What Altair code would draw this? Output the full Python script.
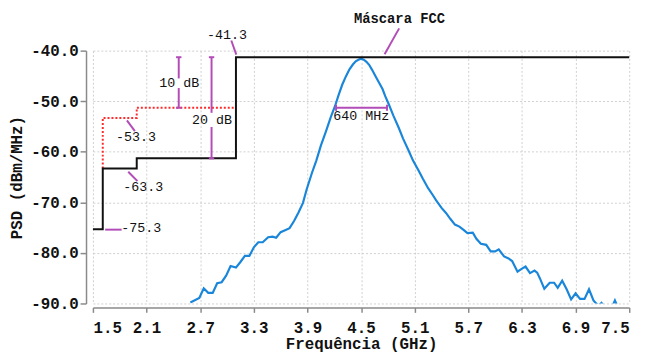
import altair as alt
import pandas as pd

# ---- PSD curve (GHz, dBm/MHz) ----
psd_freq = [2.59, 2.69, 2.74, 2.79, 2.84, 2.89, 2.94, 2.99, 3.04, 3.10, 3.15, 3.20,
            3.25, 3.30, 3.35, 3.40, 3.46, 3.51, 3.55, 3.60, 3.65, 3.70, 3.75, 3.80,
            3.85, 3.89, 3.95, 4.00, 4.05, 4.11, 4.16, 4.21, 4.25, 4.29, 4.33, 4.37,
            4.41, 4.44, 4.47, 4.50, 4.53, 4.56, 4.59, 4.62, 4.66, 4.70, 4.74, 4.77,
            4.81, 4.86, 4.92, 4.97, 5.03, 5.08, 5.14, 5.19, 5.25, 5.30, 5.34, 5.40,
            5.45, 5.50, 5.55, 5.60, 5.65, 5.69, 5.75, 5.79, 5.84, 5.90, 5.95, 6.00,
            6.04, 6.10, 6.15, 6.19, 6.25, 6.30, 6.34, 6.39, 6.44, 6.47, 6.50, 6.55,
            6.61, 6.66, 6.70, 6.75, 6.80, 6.85, 6.90, 6.95, 7.00, 7.05, 7.10, 7.13,
            7.16, 7.19, 7.22, 7.26, 7.30, 7.32, 7.34, 7.36, 7.40]
psd_db = [-89.8, -88.9, -87.0, -87.9, -87.9, -86.0, -85.8, -84.5, -82.6, -82.9, -81.8, -80.6,
          -80.6, -78.9, -77.9, -77.9, -76.9, -76.8, -77.0, -75.9, -75.5, -75.1, -73.7, -72.0,
          -70.1, -67.5, -64.2, -61.7, -58.8, -55.8, -53.2, -50.9, -48.7, -46.7, -45.1, -43.7,
          -42.7, -42.1, -41.8, -41.6, -41.8, -42.2, -42.8, -43.7, -45.0, -46.3, -47.6, -49.0,
          -50.6, -52.8, -55.2, -57.4, -59.7, -61.7, -63.6, -65.3, -67.2, -68.5, -69.6, -71.1,
          -72.1, -73.3, -74.4, -74.8, -75.5, -76.1, -76.0, -77.2, -78.2, -78.4, -79.7, -79.7,
          -79.3, -80.7, -81.1, -81.6, -83.7, -83.1, -82.7, -84.0, -83.5, -83.9, -85.0, -87.1,
          -85.9, -85.9, -86.9, -85.5, -87.2, -89.2, -88.0, -89.1, -89.1, -87.2, -89.4, -90.0,
          -90.4, -89.9, -90.6, -91.0, -90.5, -90.2, -89.4, -90.2, -91.0]

# ---- FCC masks ----
outdoor_freq = [1.5, 1.61, 1.61, 1.99, 1.99, 3.1, 3.1, 7.5]
outdoor_db = [-75.3, -75.3, -63.3, -63.3, -61.3, -61.3, -41.3, -41.3]
indoor_freq = [1.61, 1.61, 1.99, 1.99, 3.1]
indoor_db = [-63.3, -53.3, -53.3, -51.3, -51.3]

# ---- annotation segments (purple) ----
seg_x1 = [3.048, 4.926, 2.46, 2.46, 2.43, 2.43, 2.827, 2.827, 2.797, 2.797,
          1.880, 1.895, 1.637, 4.22, 4.22, 4.79]
seg_y1 = [-38.0, -35.6, -41.3, -47.4, -41.3, -51.3, -41.3, -55.1, -41.3, -61.3,
          -53.8, -63.95, -75.4, -51.3, -50.7, -50.7]
seg_x2 = [3.104, 4.763, 2.46, 2.46, 2.49, 2.49, 2.827, 2.827, 2.857, 2.857,
          1.969, 1.998, 1.821, 4.79, 4.22, 4.79]
seg_y2 = [-40.8, -40.7, -45.5, -51.3, -41.3, -51.3, -52.3, -61.3, -41.3, -61.3,
          -55.9, -65.8, -75.4, -51.3, -51.9, -51.9]

# ---- annotation labels ----
ann_text = ["-41.3", "10 dB", "20 dB", "-53.3", "-63.3", "-75.3", "640 MHz"]
ann_x = [3.00, 2.467, 2.831, 1.983, 2.064, 2.041, 4.503]
ann_y = [-36.9, -46.5, -53.7, -57.1, -66.9, -75.0, -52.9]
title_text = ["Máscara FCC"]
title_x = [4.93]
title_y = [-33.7]

x_ticks = [1.5, 2.1, 2.7, 3.3, 3.9, 4.5, 5.1, 5.7, 6.3, 6.9, 7.5]
y_ticks = [-90, -85, -80, -75, -70, -65, -60, -55, -50, -45, -40]

FONT = "Liberation Mono"
PURPLE = "#b24db8"

psd_df = pd.DataFrame({"f": psd_freq, "db": psd_db})
out_df = pd.DataFrame({"f": outdoor_freq, "db": outdoor_db, "i": range(len(outdoor_freq))})
in_df = pd.DataFrame({"f": indoor_freq, "db": indoor_db, "i": range(len(indoor_freq))})
seg_df = pd.DataFrame({"x1": seg_x1, "y1": seg_y1, "x2": seg_x2, "y2": seg_y2})
ann_df = pd.DataFrame({"t": ann_text, "x": ann_x, "y": ann_y})
tit_df = pd.DataFrame({"t": title_text, "x": title_x, "y": title_y})

xscale = alt.Scale(domain=[1.5, 7.5], nice=False, zero=False)
yscale = alt.Scale(domain=[-90, -40], nice=False, zero=False)

x_axis = alt.Axis(values=x_ticks, format=".1f", title="Frequência (GHz)",
                  offset=4, tickSize=5, labelPadding=7, titlePadding=1,
                  grid=True, gridDash=[2, 2], gridColor="#cfcfcf")
y_axis = alt.Axis(values=y_ticks, title="PSD (dBm/MHz)",
                  labelExpr="datum.value % 10 == 0 ? '-' + format(-datum.value, '.1f') : ''",
                  offset=7, tickSize=6, labelPadding=2, titlePadding=6,
                  grid=True, gridDash=[2, 2], gridColor="#cfcfcf")

base_x = alt.X("f:Q", scale=xscale, axis=x_axis)
base_y = alt.Y("db:Q", scale=yscale, axis=y_axis)

psd = alt.Chart(psd_df).mark_line(color="#1a86d9", strokeWidth=2.2, clip=True).encode(
    x=base_x, y=base_y)

outdoor = alt.Chart(out_df).mark_line(color="#111111", strokeWidth=2).encode(
    x=alt.X("f:Q", scale=xscale), y=alt.Y("db:Q", scale=yscale), order="i:Q")

indoor = alt.Chart(in_df).mark_line(color="#ff2a2a", strokeWidth=2, strokeDash=[2, 2]).encode(
    x=alt.X("f:Q", scale=xscale), y=alt.Y("db:Q", scale=yscale), order="i:Q")

segs = alt.Chart(seg_df).mark_rule(color=PURPLE, strokeWidth=2).encode(
    x=alt.X("x1:Q", scale=xscale), y=alt.Y("y1:Q", scale=yscale),
    x2="x2:Q", y2="y2:Q")

anns = alt.Chart(ann_df).mark_text(font=FONT, fontSize=13.5, color="#111111",
                                   align="center", baseline="middle").encode(
    x=alt.X("x:Q", scale=xscale), y=alt.Y("y:Q", scale=yscale), text="t:N")

tit = alt.Chart(tit_df).mark_text(font=FONT, fontSize=14, fontWeight="bold", color="#111111",
                                  align="center", baseline="middle").encode(
    x=alt.X("x:Q", scale=xscale), y=alt.Y("y:Q", scale=yscale), text="t:N")

chart = alt.layer(psd, indoor, outdoor, segs, anns, tit).properties(
    width=543, height=256,
    autosize=alt.AutoSizeParams(type="none"),
    padding={"left": 86, "top": 41, "right": 18, "bottom": 50},
).configure_view(stroke=None).configure_axis(
    labelFont=FONT, labelFontSize=16, labelFontWeight="bold", labelColor="#111111",
    titleFont=FONT, titleFontSize=16, titleFontWeight="bold", titleColor="#111111",
    domainColor="#8a8a8a", tickColor="#8a8a8a", domainWidth=1.5, tickWidth=1.5,
)

chart.save("out.html", embed_options={"renderer": "svg", "actions": False})
